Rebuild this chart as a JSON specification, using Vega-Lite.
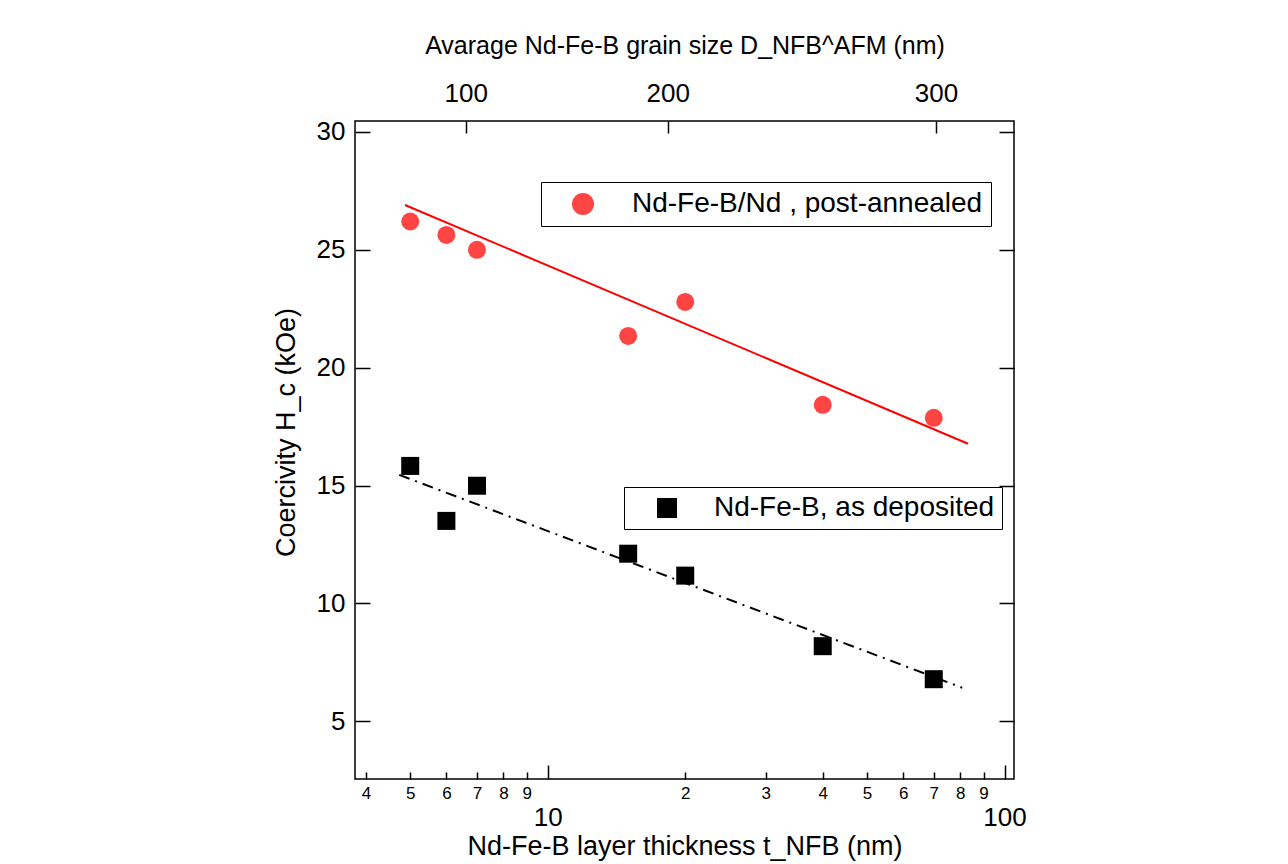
{
  "$schema": "https://vega.github.io/schema/vega-lite/v6.json",
  "width": 659,
  "height": 658,
  "autosize": {"type": "none"},
  "padding": {"left": 355, "top": 121, "right": 274, "bottom": 85},
  "background": "white",
  "config": {
    "view": {"stroke": "#000000", "strokeWidth": 1.5},
    "font": "Liberation Sans",
    "axis": {
      "grid": false,
      "domain": false,
      "tickColor": "#000000",
      "tickWidth": 1.5,
      "labelColor": "#000000",
      "titleColor": "#000000",
      "labelFont": "Liberation Sans",
      "titleFont": "Liberation Sans",
      "titleFontWeight": "normal",
      "labelFlush": false,
      "labelOverlap": false,
      "labelBound": false
    },
    "legend": {
      "labelFont": "Liberation Sans",
      "labelColor": "#000000",
      "labelFontSize": 28,
      "labelLimit": 800,
      "strokeColor": "#000000",
      "fillColor": "#ffffff",
      "symbolStrokeWidth": 0
    }
  },
  "datasets": {
    "annealed": [
      {"t": 5, "hc": 26.19, "series": "Nd-Fe-B/Nd , post-annealed"},
      {"t": 6, "hc": 25.62, "series": "Nd-Fe-B/Nd , post-annealed"},
      {"t": 7, "hc": 24.99, "series": "Nd-Fe-B/Nd , post-annealed"},
      {"t": 15, "hc": 21.34, "series": "Nd-Fe-B/Nd , post-annealed"},
      {"t": 20, "hc": 22.78, "series": "Nd-Fe-B/Nd , post-annealed"},
      {"t": 40, "hc": 18.42, "series": "Nd-Fe-B/Nd , post-annealed"},
      {"t": 70, "hc": 17.87, "series": "Nd-Fe-B/Nd , post-annealed"}
    ],
    "deposited": [
      {"t": 5, "hc": 15.83, "series": "Nd-Fe-B, as deposited"},
      {"t": 6, "hc": 13.5, "series": "Nd-Fe-B, as deposited"},
      {"t": 7, "hc": 14.99, "series": "Nd-Fe-B, as deposited"},
      {"t": 15, "hc": 12.11, "series": "Nd-Fe-B, as deposited"},
      {"t": 20, "hc": 11.18, "series": "Nd-Fe-B, as deposited"},
      {"t": 40, "hc": 8.19, "series": "Nd-Fe-B, as deposited"},
      {"t": 70, "hc": 6.79, "series": "Nd-Fe-B, as deposited"}
    ],
    "fitAnnealed": [
      {"t": 4.87, "hc": 26.89},
      {"t": 83.2, "hc": 16.77}
    ],
    "fitDeposited": [
      {"t": 4.73, "hc": 15.45},
      {"t": 80.8, "hc": 6.43}
    ]
  },
  "layer": [
    {
      "data": {"name": "fitAnnealed"},
      "mark": {"type": "line", "color": "#ff0000", "strokeWidth": 2},
      "encoding": {
        "x": {
          "field": "t", "type": "quantitative",
          "scale": {"type": "log", "domain": [3.785, 104.9], "nice": false, "zero": false},
          "axis": {
            "orient": "top",
            "values": [6.615, 18.31, 70.8],
            "labelExpr": "datum.value < 10 ? '100' : (datum.value < 50 ? '200' : '300')",
            "tickSize": -12,
            "labelPadding": 27,
            "labelFontSize": 26,
            "title": "Avarage Nd-Fe-B grain size D_NFB^AFM (nm)",
            "titleFontSize": 25,
            "titlePadding": 22
          }
        },
        "y": {
          "field": "hc", "type": "quantitative",
          "scale": {"domain": [2.56, 30.45], "nice": false, "zero": false},
          "axis": null
        }
      }
    },
    {
      "data": {"name": "fitDeposited"},
      "mark": {"type": "line", "color": "#000000", "strokeWidth": 2, "strokeDash": [11, 6, 2, 6]},
      "encoding": {
        "x": {"field": "t", "type": "quantitative", "axis": null},
        "y": {"field": "hc", "type": "quantitative", "axis": null}
      }
    },
    {
      "data": {"name": "annealed"},
      "mark": {"type": "point", "shape": "circle", "filled": true, "size": 324, "opacity": 1},
      "encoding": {
        "x": {
          "field": "t", "type": "quantitative",
          "axis": {
            "orient": "bottom",
            "values": [4, 5, 6, 7, 8, 9, 20, 30, 40, 50, 60, 70, 80, 90],
            "labelExpr": "datum.value < 10 ? '' + datum.value : '' + round(datum.value / 10)",
            "tickSize": -7,
            "labelPadding": 13,
            "labelFontSize": 17,
            "title": "Nd-Fe-B layer thickness t_NFB (nm)",
            "titleFontSize": 27,
            "titlePadding": 32
          }
        },
        "y": {
          "field": "hc", "type": "quantitative",
          "axis": {
            "orient": "left",
            "values": [5, 10, 15, 20, 25, 30],
            "tickSize": -15,
            "labelPadding": 25,
            "labelFontSize": 26,
            "title": "Coercivity H_c (kOe)",
            "titleFontSize": 27,
            "titlePadding": 16,
            "titleY": 311
          }
        },
        "color": {
          "field": "series", "type": "nominal",
          "scale": {"range": ["#ff4444"]},
          "legend": {
            "orient": "none",
            "legendX": 186,
            "legendY": 61,
            "title": null,
            "symbolType": "circle",
            "symbolSize": 484,
            "padding": 8,
            "symbolOffset": 20,
            "labelOffset": 35
          }
        }
      }
    },
    {
      "data": {"name": "deposited"},
      "mark": {"type": "point", "shape": "square", "filled": true, "size": 324, "opacity": 1},
      "encoding": {
        "x": {
          "field": "t", "type": "quantitative",
          "axis": {
            "orient": "bottom",
            "values": [10, 100],
            "labelExpr": "'' + datum.value",
            "tickSize": -14,
            "labelPadding": 39,
            "labelFontSize": 26,
            "title": null
          }
        },
        "y": {
          "field": "hc", "type": "quantitative",
          "axis": {
            "orient": "right",
            "values": [5, 10, 15, 20, 25, 30],
            "tickSize": -15,
            "labels": false,
            "title": null
          }
        },
        "color": {
          "field": "series", "type": "nominal",
          "scale": {"range": ["#000000"]},
          "legend": {
            "orient": "none",
            "legendX": 269,
            "legendY": 366,
            "title": null,
            "symbolType": "square",
            "symbolSize": 400,
            "padding": 7,
            "symbolOffset": 22,
            "labelOffset": 33
          }
        }
      }
    }
  ],
  "resolve": {
    "axis": {"x": "independent", "y": "independent"},
    "scale": {"color": "independent"},
    "legend": {"color": "independent"}
  }
}
